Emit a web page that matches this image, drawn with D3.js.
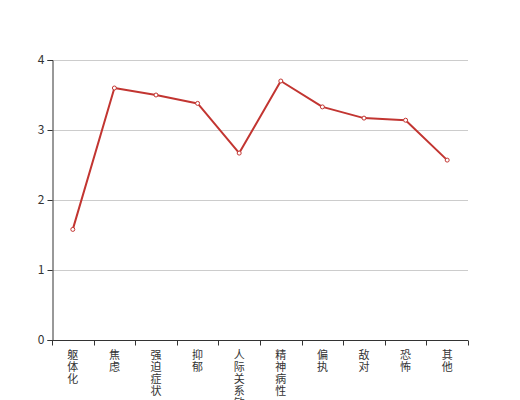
<!DOCTYPE html>
<html>
<head>
<meta charset="utf-8">
<script src="https://cdn.jsdelivr.net/npm/d3@7"></script>
<style>
  body { margin: 0; background: #fff; }
  text { font-family: "Noto Sans CJK SC", sans-serif; }
</style>
</head>
<body>
<div id="chart"></div>
<script>
// factor names and mean scores
var categories = ["躯体化", "焦虑", "强迫症状", "抑郁", "人际关系敏感", "精神病性", "偏执", "敌对", "恐怖", "其他"];
var scores = [1.58, 3.6, 3.5, 3.38, 2.67, 3.7, 3.33, 3.17, 3.14, 2.57];
var yTicks = [0, 1, 2, 3, 4];

var width = 520, height = 400;
var margin = {top: 60, right: 52, bottom: 60, left: 52};

var svg = d3.select("#chart").append("svg")
    .attr("width", width)
    .attr("height", height);

var x = d3.scaleBand()
    .domain(categories)
    .range([margin.left, width - margin.right]);

var y = d3.scaleLinear()
    .domain([0, 4])
    .range([height - margin.bottom, margin.top]);

// grid lines
svg.append("g")
    .selectAll("line")
    .data(yTicks.filter(d => d > 0))
    .enter().append("line")
    .attr("x1", margin.left)
    .attr("x2", width - margin.right)
    .attr("y1", d => y(d) + 0.5)
    .attr("y2", d => y(d) + 0.5)
    .attr("stroke", "#ccc")
    .attr("stroke-width", 1);

// y axis
var yAxis = svg.append("g")
    .attr("transform", "translate(" + (margin.left + 0.5) + ",0)")
    .call(d3.axisLeft(y).tickValues(yTicks).tickSize(5).tickPadding(3).tickFormat(d3.format("d")));
yAxis.select(".domain").attr("stroke", "#333");
yAxis.selectAll(".tick line").attr("stroke", "#333");
yAxis.selectAll(".tick text")
    .attr("fill", "#333")
    .style("font-size", "12px");

// x axis: ticks at band boundaries
var xAxis = svg.append("g")
    .attr("transform", "translate(0," + (y(0) + 0.5) + ")");
xAxis.append("line")
    .attr("x1", margin.left)
    .attr("x2", width - margin.right)
    .attr("stroke", "#333");
var bounds = categories.map(c => x(c)).concat([width - margin.right]);
xAxis.selectAll(".xtick")
    .data(bounds)
    .enter().append("line")
    .attr("class", "xtick")
    .attr("x1", d => Math.round(d) + 0.5)
    .attr("x2", d => Math.round(d) + 0.5)
    .attr("y1", 0)
    .attr("y2", 5)
    .attr("stroke", "#333");

// vertical labels, one character per line
var labels = xAxis.selectAll(".xlabel")
    .data(categories)
    .enter().append("text")
    .attr("class", "xlabel")
    .attr("fill", "#333")
    .style("font-size", "11px")
    .attr("text-anchor", "middle");
labels.selectAll("tspan")
    .data(d => d.split(""))
    .enter().append("tspan")
    .attr("x", function() { return x(d3.select(this.parentNode).datum()) + x.bandwidth() / 2; })
    .attr("y", (d, i) => 18 + i * 12)
    .text(d => d);

// line
var line = d3.line()
    .x((d, i) => x(categories[i]) + x.bandwidth() / 2)
    .y(d => y(d));

svg.append("path")
    .datum(scores)
    .attr("d", line)
    .attr("fill", "none")
    .attr("stroke", "#c23531")
    .attr("stroke-width", 2)
    .attr("stroke-linejoin", "round");

svg.append("g")
    .selectAll("circle")
    .data(scores)
    .enter().append("circle")
    .attr("cx", (d, i) => x(categories[i]) + x.bandwidth() / 2)
    .attr("cy", d => y(d))
    .attr("r", 2)
    .attr("fill", "#fff")
    .attr("stroke", "#c23531")
    .attr("stroke-width", 1);
</script>
</body>
</html>
